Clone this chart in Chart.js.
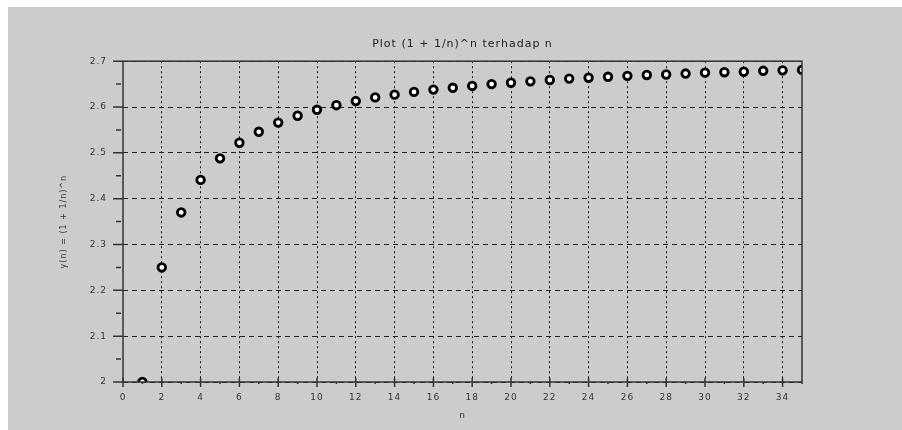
<!DOCTYPE html>
<html>
<head>
<meta charset="utf-8">
<script src="https://cdn.jsdelivr.net/npm/chart.js@4"></script>
<style>
  html, body { margin: 0; padding: 0; background: #fff; }
  #wrap { position: absolute; left: 8px; top: 7px; width: 894px; height: 423px; background: #cccccc; }
</style>
</head>
<body>
<div id="wrap"><canvas id="plot"></canvas></div>
<script>
// n und y(n) = (1 + 1/n)^n
const nValues = [1, 2, 3, 4, 5, 6, 7, 8, 9, 10, 11, 12, 13, 14, 15, 16, 17, 18,
    19, 20, 21, 22, 23, 24, 25, 26, 27, 28, 29, 30, 31, 32, 33, 34, 35];
const yValues = [2.000, 2.250, 2.370, 2.441, 2.488, 2.522, 2.546, 2.566, 2.581,
    2.594, 2.604, 2.613, 2.621, 2.627, 2.633, 2.638, 2.642, 2.646, 2.650, 2.653,
    2.656, 2.659, 2.662, 2.664, 2.666, 2.668, 2.670, 2.671, 2.673, 2.675, 2.676,
    2.677, 2.679, 2.680, 2.681];
const xRange = [0, 35];
const yRange = [2, 2.7];

const points = nValues.map((n, i) => ({ x: n, y: yValues[i] }));
const font = { family: 'DejaVu Sans, sans-serif', size: 9 };
const isMajorX = v => v % 2 === 0;
const isMajorY = v => Math.round(v * 100) % 10 === 0;

// breite Schrift wie im Original
const spacing = {
    id: 'spacing',
    beforeDraw(chart) {
        chart.ctx.letterSpacing = '1px';
    }
};

// Rahmen und Teilstriche (Haupt- und Nebenstriche) selbst zeichnen
const frame = {
    id: 'frame',
    afterDatasetsDraw(chart) {
        const a = chart.chartArea;
        const ctx = chart.ctx;
        const xs = chart.scales.x;
        const ys = chart.scales.y;
        ctx.save();
        ctx.strokeStyle = '#333';
        ctx.lineWidth = 1.5;
        ctx.strokeRect(a.left, a.top, a.right - a.left, a.bottom - a.top);

        ctx.beginPath();
        xs.ticks.forEach(t => {
            const px = xs.getPixelForValue(t.value);
            if (isMajorX(t.value)) {
                ctx.moveTo(px, a.bottom - 4);
                ctx.lineTo(px, a.bottom + 5);
            } else {
                ctx.moveTo(px, a.bottom);
                ctx.lineTo(px, a.bottom + 2);
            }
        });
        ys.ticks.forEach(t => {
            const py = ys.getPixelForValue(t.value);
            if (isMajorY(t.value)) {
                ctx.moveTo(a.left - 10, py);
                ctx.lineTo(a.left, py);
            } else {
                ctx.moveTo(a.left - 7, py);
                ctx.lineTo(a.left - 2, py);
            }
        });
        ctx.stroke();
        ctx.restore();
    }
};

const ctx = document.getElementById('plot').getContext('2d');
new Chart(ctx, {
    type: 'scatter',
    data: {
        datasets: [{
            data: points,
            borderColor: '#000',
            backgroundColor: '#fff',
            borderWidth: 2.8,
            pointRadius: 3.8,
            pointHoverRadius: 3.8,
            clip: 0
        }]
    },
    options: {
        responsive: true,
        maintainAspectRatio: false,
        animation: false,
        layout: { padding: { left: 0, right: 100, top: 0, bottom: 0 } },
        plugins: {
            legend: { display: false },
            tooltip: { enabled: false },
            title: {
                display: true,
                fullSize: false,
                text: 'Plot (1 + 1/n)^n terhadap n',
                color: '#222',
                font: { family: font.family, size: 11, weight: 'normal' },
                padding: { top: 31, bottom: 10 }
            }
        },
        scales: {
            x: {
                type: 'linear',
                min: xRange[0],
                max: xRange[1],
                afterFit: s => { s.height = 48; },
                ticks: {
                    stepSize: 1,
                    autoSkip: false,
                    maxRotation: 0,
                    padding: 10,
                    color: '#333',
                    font: font,
                    callback: v => (isMajorX(v) ? String(v) : '')
                },
                grid: {
                    color: c => (c.tick && isMajorX(c.tick.value) && c.tick.value > 0 ? '#111' : 'rgba(0,0,0,0)'),
                    drawTicks: false,
                    lineWidth: 1
                },
                border: { display: false, dash: [2, 3] },
                title: {
                    display: true,
                    text: 'n',
                    color: '#333',
                    font: font,
                    padding: { top: 0, bottom: 9 }
                }
            },
            y: {
                type: 'linear',
                min: yRange[0],
                max: yRange[1],
                afterFit: s => { s.width = 115; },
                ticks: {
                    stepSize: 0.05,
                    autoSkip: false,
                    padding: 16,
                    color: '#333',
                    font: font,
                    callback: v => (isMajorY(v) ? String(Math.round(v * 10) / 10) : '')
                },
                grid: {
                    color: c => (c.tick && isMajorY(c.tick.value) ? '#222' : 'rgba(0,0,0,0)'),
                    drawTicks: false,
                    lineWidth: 1
                },
                border: { display: false, dash: [5, 4] },
                title: {
                    display: true,
                    text: 'y(n) = (1 + 1/n)^n',
                    color: '#333',
                    font: { family: font.family, size: 8 },
                    padding: { top: 51, bottom: 0 }
                }
            }
        }
    },
    plugins: [spacing, frame]
});
</script>
</body>
</html>
